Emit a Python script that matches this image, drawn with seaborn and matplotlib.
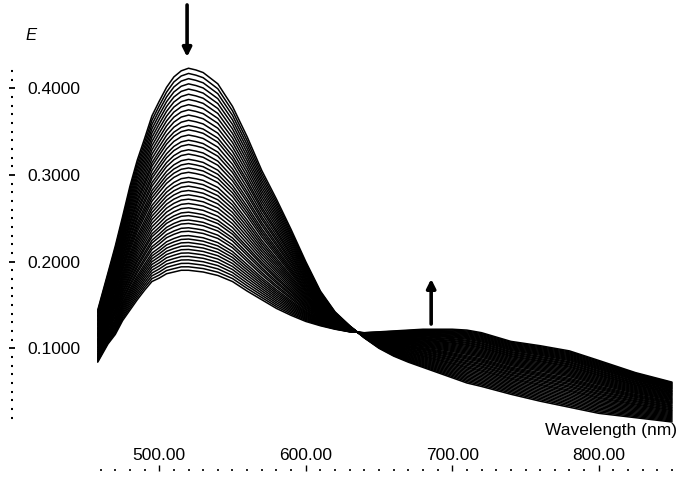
import numpy as np
import pandas as pd
import matplotlib
matplotlib.use("Agg")
import matplotlib.pyplot as plt
import seaborn as sns
from matplotlib.ticker import FixedLocator, FormatStrFormatter

# wavelength grid (nm)
wavelength = [458, 465, 470, 475, 480, 485, 490, 495, 500, 505, 510, 515, 520,
              525, 530, 540, 550, 560, 570, 580, 590, 600, 610, 620, 630, 640,
              650, 660, 670, 680, 690, 700, 710, 720, 740, 760, 780, 800, 825, 850]

# first scan (highest band at ~520 nm)
first_scan = [0.144, 0.187, 0.218, 0.252, 0.287, 0.317, 0.342, 0.368, 0.385, 0.401,
              0.413, 0.420, 0.423, 0.421, 0.418, 0.405, 0.379, 0.344, 0.305, 0.272,
              0.237, 0.200, 0.166, 0.142, 0.126, 0.112, 0.100, 0.091, 0.084, 0.078,
              0.072, 0.066, 0.060, 0.056, 0.047, 0.039, 0.032, 0.025, 0.020, 0.015]

# last scan (lowest band at ~520 nm, highest at ~690 nm)
last_scan = [0.084, 0.105, 0.116, 0.132, 0.144, 0.156, 0.167, 0.177, 0.181, 0.186,
             0.188, 0.190, 0.190, 0.189, 0.188, 0.184, 0.177, 0.166, 0.156, 0.146,
             0.138, 0.131, 0.126, 0.122, 0.119, 0.118, 0.119, 0.120, 0.121, 0.122,
             0.122, 0.122, 0.121, 0.118, 0.108, 0.103, 0.097, 0.086, 0.072, 0.061]

peak_heights = [0.423, 0.417, 0.411, 0.405, 0.399, 0.393, 0.387, 0.381, 0.375, 0.369,
                0.363, 0.357, 0.352, 0.346, 0.340, 0.335, 0.329, 0.324, 0.318, 0.313,
                0.308, 0.303, 0.297, 0.292, 0.287, 0.282, 0.277, 0.272, 0.267, 0.262,
                0.257, 0.253, 0.248, 0.244, 0.239, 0.235, 0.230, 0.226, 0.222, 0.218,
                0.214, 0.210, 0.206, 0.202, 0.198, 0.194, 0.190]

x_major = [500, 600, 700, 800]
y_major = [0.1, 0.2, 0.3, 0.4]

# each scan is a two-component mixture of first and last spectra (isosbestic behaviour)
first = np.array(first_scan)
last = np.array(last_scan)
p0, p1 = first_scan[wavelength.index(520)], last_scan[wavelength.index(520)]
rows = []
for i, p in enumerate(peak_heights):
    f = (p0 - p) / (p0 - p1)
    spec = (1 - f) * first + f * last
    for w, e in zip(wavelength, spec):
        rows.append((i, w, e))
df = pd.DataFrame(rows, columns=["scan", "wavelength", "E"])

sns.set_style("white")
plt.rcParams["font.family"] = ["Liberation Sans", "DejaVu Sans"]
plt.rcParams["text.color"] = "black"
plt.rcParams["axes.labelcolor"] = "black"
plt.rcParams["xtick.color"] = "black"
plt.rcParams["ytick.color"] = "black"

fig = plt.figure(figsize=(6.77, 4.79), dpi=100)
ax = fig.add_axes([12 / 677, 8 / 479, 665 / 677, 471 / 479])

sns.lineplot(data=df, x="wavelength", y="E", units="scan", estimator=None,
             color="black", lw=1.1, ax=ax, legend=False)

ax.set_xlim(399.5, 853.4)
ax.set_ylim(-0.0415, 0.5017)

for s in ["top", "right", "left", "bottom"]:
    ax.spines[s].set_visible(False)

# dotted tick rows
ax.xaxis.set_major_locator(FixedLocator(x_major))
ax.xaxis.set_minor_locator(FixedLocator(list(range(460, 851, 10))))
ax.yaxis.set_major_locator(FixedLocator(y_major))
ax.yaxis.set_minor_locator(FixedLocator([round(0.02 + 0.01 * k, 2) for k in range(41)]))
ax.xaxis.set_major_formatter(FormatStrFormatter("%.2f"))
ax.yaxis.set_major_formatter(FormatStrFormatter("%.4f"))

ax.tick_params(axis="y", which="major", direction="inout", length=4, width=1.3,
               pad=-12.8, labelsize=12.5, left=True, colors="black")
ax.tick_params(axis="y", which="minor", direction="inout", length=1.5, width=1.5,
               left=True, colors="black")
ax.tick_params(axis="x", which="major", direction="in", length=4, width=1.0,
               pad=-11.0, labelsize=12.5, bottom=True, colors="black")
ax.tick_params(axis="x", which="minor", direction="in", length=1.5, width=1.2,
               bottom=True, colors="black")
for lab in ax.get_yticklabels():
    lab.set_horizontalalignment("left")
for lab in ax.get_xticklabels():
    lab.set_verticalalignment("center")

ax.set_xlabel("Wavelength (nm)", fontsize=12.5, color="black")
ax.xaxis.set_label_coords(1.0, 0.087)
ax.xaxis.label.set_horizontalalignment("right")
ax.xaxis.label.set_verticalalignment("center")

ax.set_ylabel("E", fontsize=12, style="italic", rotation=0, color="black")
ax.yaxis.set_label_coords(0.0286, 0.925)
ax.yaxis.label.set_verticalalignment("center")

# arrows showing the direction of change
down_arrow = ((519, 0.496), (519, 0.436))
up_arrow = ((685.6, 0.128), (685.6, 0.180))
for tail, head in [down_arrow, up_arrow]:
    ax.annotate("", xy=head, xytext=tail,
                arrowprops=dict(arrowstyle="-|>", lw=2.6, color="black",
                                mutation_scale=13, shrinkA=0, shrinkB=0))

fig.savefig("out.png", dpi=100)
